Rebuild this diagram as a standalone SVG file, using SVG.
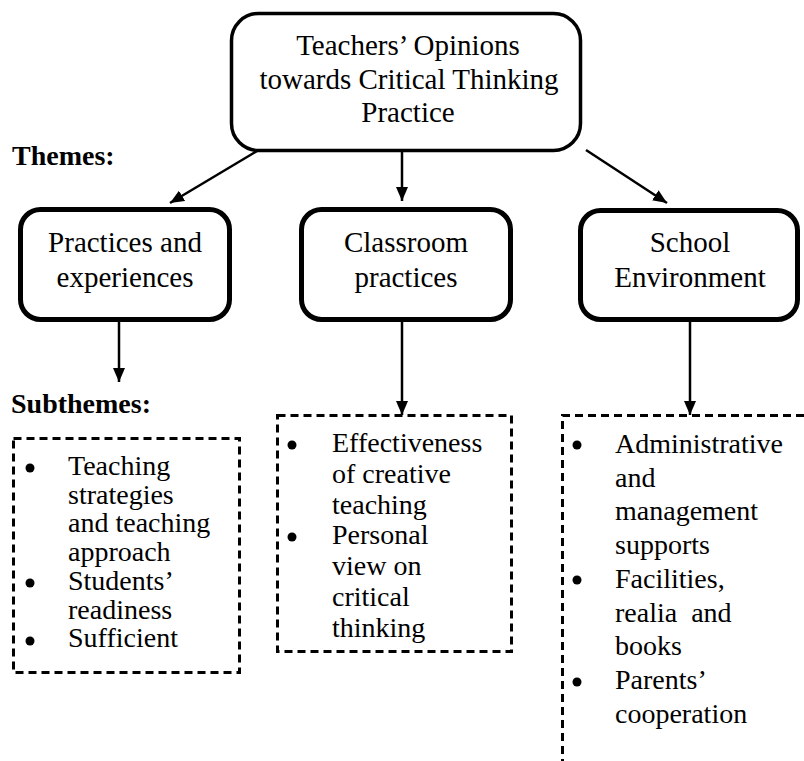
<svg xmlns="http://www.w3.org/2000/svg" width="804" height="761" viewBox="0 0 804 761">
  <style>
    .txt { font-family: "Liberation Serif", "Times New Roman", Times, serif; fill: #000; }
    .title { font-size: 29px; text-anchor: middle; }
    .theme { font-size: 29px; text-anchor: middle; }
    .label { font-size: 28px; font-weight: bold; }
    .item { font-size: 28px; }
    .root { fill: #fff; stroke: #000; stroke-width: 3.5; }
    .box { fill: #fff; stroke: #000; stroke-width: 5; }
    .dash { fill: none; stroke: #000; stroke-width: 3; stroke-dasharray: 8 5; }
    .conn { fill: none; stroke: #000; stroke-width: 2.5; marker-end: url(#arrow); }
    .dot { fill: #000; }
  </style>
  <defs>
    <marker id="arrow" markerUnits="userSpaceOnUse" markerWidth="15" markerHeight="15" viewBox="0 0 15 15" refX="14" refY="7.5" orient="auto">
      <path d="M0,1.5 L14,7.5 L0,13.5 Z" fill="#000"/>
    </marker>
  </defs>
  <rect width="804" height="761" fill="#fff"/>

  <!-- connectors -->
  <g id="connectors">
    <line class="conn" x1="262" y1="148" x2="170" y2="203"/>
    <line class="conn" x1="402" y1="152" x2="402" y2="201"/>
    <line class="conn" x1="586" y1="150" x2="667" y2="203"/>
    <line class="conn" x1="119" y1="322" x2="119" y2="382"/>
    <line class="conn" x1="402" y1="322" x2="402" y2="415"/>
    <line class="conn" x1="690" y1="322" x2="690" y2="415"/>
  </g>

  <!-- root node -->
  <g id="root">
    <rect class="root" x="231.5" y="13.5" width="349" height="137" rx="27" ry="27"/>
    <text class="txt title" x="408" y="55">Teachers’ Opinions</text>
    <text class="txt title" x="409" y="89">towards Critical Thinking</text>
    <text class="txt title" x="408" y="122">Practice</text>
  </g>

  <text id="themes-label" class="txt label" x="12" y="165">Themes:</text>
  <text id="subthemes-label" class="txt label" x="11" y="413">Subthemes:</text>

  <!-- themes -->
  <g id="theme-practices">
    <rect class="box" x="20.5" y="209.5" width="209" height="110" rx="20" ry="20"/>
    <text class="txt theme" x="125" y="252">Practices and</text>
    <text class="txt theme" x="125" y="287">experiences</text>
  </g>
  <g id="theme-classroom">
    <rect class="box" x="301.5" y="209.5" width="209" height="110" rx="20" ry="20"/>
    <text class="txt theme" x="406" y="252">Classroom</text>
    <text class="txt theme" x="406" y="287">practices</text>
  </g>
  <g id="theme-school">
    <rect class="box" x="580.5" y="210.5" width="217" height="109" rx="20" ry="20"/>
    <text class="txt theme" x="690" y="252">School</text>
    <text class="txt theme" x="690" y="287">Environment</text>
  </g>

  <!-- subthemes -->
  <g id="sub-practices">
    <rect class="dash" x="13.5" y="438.5" width="226" height="234"/>
    <circle class="dot" cx="30" cy="468" r="4.5"/>
    <circle class="dot" cx="30" cy="583" r="4.5"/>
    <circle class="dot" cx="30" cy="641" r="4.5"/>
    <text class="txt item" x="68" y="475">Teaching</text>
    <text class="txt item" x="68" y="503.7">strategies</text>
    <text class="txt item" x="68" y="532.4">and teaching</text>
    <text class="txt item" x="68" y="561">approach</text>
    <text class="txt item" x="68" y="589.8">Students’</text>
    <text class="txt item" x="68" y="618.5">readiness</text>
    <text class="txt item" x="68" y="647.2">Sufficient</text>
  </g>

  <g id="sub-classroom">
    <rect class="dash" x="277.5" y="415.5" width="234" height="236"/>
    <circle class="dot" cx="292" cy="445" r="4.5"/>
    <circle class="dot" cx="292" cy="537" r="4.5"/>
    <text class="txt item" x="332" y="452">Effectiveness</text>
    <text class="txt item" x="332" y="482.8">of creative</text>
    <text class="txt item" x="332" y="513.6">teaching</text>
    <text class="txt item" x="332" y="544.4">Personal</text>
    <text class="txt item" x="332" y="575.2">view on</text>
    <text class="txt item" x="332" y="606">critical</text>
    <text class="txt item" x="332" y="636.8">thinking</text>
  </g>

  <g id="sub-school">
    <path class="dash" d="M804 415.5 H562.5 V761"/>
    <circle class="dot" cx="577" cy="445" r="4.5"/>
    <circle class="dot" cx="577" cy="580" r="4.5"/>
    <circle class="dot" cx="577" cy="682" r="4.5"/>
    <text class="txt item" x="615" y="453">Administrative</text>
    <text class="txt item" x="615" y="486.7">and</text>
    <text class="txt item" x="615" y="520.4">management</text>
    <text class="txt item" x="615" y="554">supports</text>
    <text class="txt item" x="615" y="587.8">Facilities,</text>
    <text class="txt item" x="615" y="621.5" xml:space="preserve">realia  and</text>
    <text class="txt item" x="615" y="655">books</text>
    <text class="txt item" x="615" y="689">Parents’</text>
    <text class="txt item" x="615" y="722.6">cooperation</text>
  </g>
</svg>
